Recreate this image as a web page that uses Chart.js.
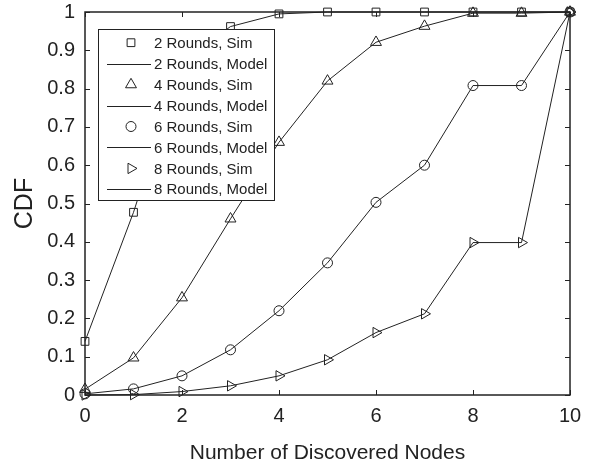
<!DOCTYPE html>
<html>
<head>
<meta charset="utf-8">
<script src="https://cdn.jsdelivr.net/npm/chart.js@4.4.0/dist/chart.umd.min.js"></script>
<style>
  html, body { margin: 0; padding: 0; background: #fff; }
  #wrap { width: 603px; height: 468px; }
</style>
</head>
<body>
<div id="wrap"><canvas id="cdfChart" width="603" height="468"></canvas></div>
<script>
// discovered nodes on the x axis
const nodes = [0, 1, 2, 3, 4, 5, 6, 7, 8, 9, 10];

// CDF per number of rounds (sim markers sit on the model curves)
const cdf2 = [0.14, 0.477, 0.87, 0.962, 0.995, 1, 1, 1, 1, 1, 1];
const cdf4 = [0.015, 0.097, 0.254, 0.46, 0.66, 0.82, 0.921, 0.963, 0.997, 0.997, 1];
const cdf6 = [0.003, 0.016, 0.05, 0.118, 0.22, 0.345, 0.503, 0.6, 0.808, 0.808, 1];
const cdf8 = [0, 0.001, 0.009, 0.024, 0.05, 0.092, 0.163, 0.212, 0.398, 0.398, 1];

const xTicks = [0, 2, 4, 6, 8, 10];
const yTicks = [0, 0.1, 0.2, 0.3, 0.4, 0.5, 0.6, 0.7, 0.8, 0.9, 1];

const ink = '#222';
const fontFamily = '"Liberation Sans", Arial, Helvetica, sans-serif';

function toPoints(ys) {
    return nodes.map((x, i) => ({ x: x, y: ys[i] }));
}

function simSet(label, ys, style, radius, rotation) {
    return {
        label: label,
        data: toPoints(ys),
        showLine: false,
        pointStyle: style,
        pointRadius: radius,
        pointRotation: rotation || 0,
        pointBorderWidth: 1,
        pointBorderColor: ink,
        pointBackgroundColor: 'rgba(0,0,0,0)',
        borderColor: ink,
        clip: false
    };
}

function modelSet(label, ys) {
    return {
        label: label,
        data: toPoints(ys),
        borderColor: ink,
        borderWidth: 1,
        pointRadius: 0,
        tension: 0,
        fill: false,
        clip: false
    };
}

// box round the plot with inward tick marks on all four sides
const frame = {
    id: 'frame',
    afterDatasetsDraw(chart) {
        const { ctx, chartArea: a, scales } = chart;
        const t = 5;
        ctx.save();
        ctx.strokeStyle = ink;
        ctx.lineWidth = 1.5;
        ctx.strokeRect(a.left, a.top, a.right - a.left, a.bottom - a.top);
        ctx.lineWidth = 1;
        ctx.beginPath();
        xTicks.forEach(v => {
            const px = Math.round(scales.x.getPixelForValue(v)) + 0.5;
            ctx.moveTo(px, a.bottom); ctx.lineTo(px, a.bottom - t);
            ctx.moveTo(px, a.top); ctx.lineTo(px, a.top + t);
        });
        yTicks.forEach(v => {
            const py = Math.round(scales.y.getPixelForValue(v)) + 0.5;
            ctx.moveTo(a.left, py); ctx.lineTo(a.left + t, py);
            ctx.moveTo(a.right, py); ctx.lineTo(a.right - t, py);
        });
        ctx.stroke();
        ctx.restore();
    }
};

// boxed legend in the upper left of the plot
const legendBox = {
    id: 'legendBox',
    afterDatasetsDraw(chart) {
        const ctx = chart.ctx;
        const bx = 98.5, by = 29.5, bw = 176, bh = 171;
        const rowTop = 42.7, rowGap = 20.95;
        ctx.save();
        ctx.fillStyle = '#fff';
        ctx.fillRect(bx, by, bw, bh);
        ctx.strokeStyle = ink;
        ctx.lineWidth = 1;
        ctx.strokeRect(bx, by, bw, bh);
        ctx.font = '15px ' + fontFamily;
        ctx.textBaseline = 'middle';
        chart.data.datasets.forEach((ds, i) => {
            const y = rowTop + i * rowGap;
            ctx.strokeStyle = ink;
            if (ds.showLine === false) {
                ctx.fillStyle = 'rgba(0,0,0,0)';
                Chart.helpers.drawPoint(ctx, {
                    pointStyle: ds.pointStyle,
                    radius: ds.pointRadius,
                    rotation: ds.pointRotation,
                    borderWidth: 1
                }, 131, y);
            } else {
                ctx.lineWidth = 1;
                ctx.beginPath();
                ctx.moveTo(107, Math.round(y) + 0.5);
                ctx.lineTo(151, Math.round(y) + 0.5);
                ctx.stroke();
            }
            ctx.fillStyle = ink;
            ctx.fillText(ds.label, 154, y + 1);
        });
        ctx.restore();
    }
};

new Chart(document.getElementById('cdfChart'), {
    type: 'line',
    data: {
        datasets: [
            simSet('2 Rounds, Sim', cdf2, 'rect', 5.5),
            modelSet('2 Rounds, Model', cdf2),
            simSet('4 Rounds, Sim', cdf4, 'triangle', 6.3),
            modelSet('4 Rounds, Model', cdf4),
            simSet('6 Rounds, Sim', cdf6, 'circle', 5),
            modelSet('6 Rounds, Model', cdf6),
            simSet('8 Rounds, Sim', cdf8, 'triangle', 6, 90),
            modelSet('8 Rounds, Model', cdf8)
        ]
    },
    options: {
        responsive: false,
        maintainAspectRatio: false,
        animation: false,
        devicePixelRatio: 1,
        layout: { padding: { top: 1, right: 33, left: 0, bottom: 0 } },
        plugins: {
            legend: { display: false },
            tooltip: { enabled: false }
        },
        scales: {
            x: {
                type: 'linear',
                min: 0,
                max: 10,
                afterFit: s => { s.height = 73; },
                afterBuildTicks: s => { s.ticks = xTicks.map(v => ({ value: v })); },
                grid: { display: false, drawTicks: false },
                border: { display: false },
                ticks: {
                    color: ink,
                    padding: 9,
                    maxRotation: 0,
                    autoSkip: false,
                    font: { family: fontFamily, size: 20 }
                },
                title: {
                    display: true,
                    text: 'Number of Discovered Nodes',
                    color: ink,
                    font: { family: fontFamily, size: 21 },
                    padding: { top: 0, bottom: 2 }
                }
            },
            y: {
                type: 'linear',
                min: 0,
                max: 1,
                afterFit: s => { s.width = 85; s.paddingTop = 12; },
                afterBuildTicks: s => { s.ticks = yTicks.map(v => ({ value: v })); },
                grid: { display: false, drawTicks: false },
                border: { display: false },
                ticks: {
                    color: ink,
                    padding: 10,
                    autoSkip: false,
                    font: { family: fontFamily, size: 20 },
                    callback: v => String(Number(v.toFixed(1)))
                },
                title: {
                    display: true,
                    text: 'CDF',
                    color: ink,
                    font: { family: fontFamily, size: 25 },
                    padding: { top: 10, bottom: 0 }
                }
            }
        }
    },
    plugins: [frame, legendBox]
});
</script>
</body>
</html>
